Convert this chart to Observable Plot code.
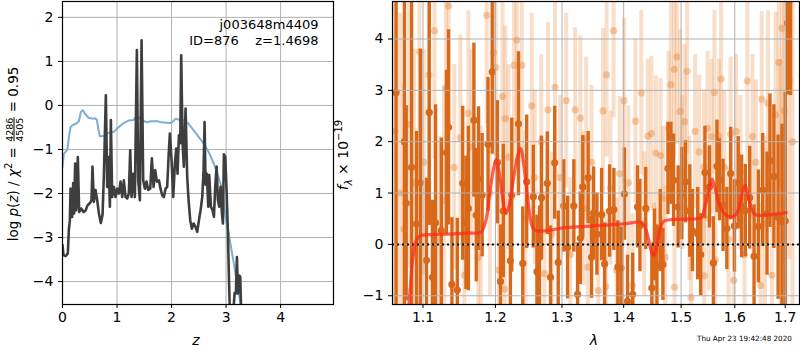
<!DOCTYPE html>
<html><head><meta charset="utf-8">
<script src="https://cdn.jsdelivr.net/npm/d3@7"></script>
<script src="https://cdn.jsdelivr.net/npm/@observablehq/plot@0.6"></script>
<style>
body{margin:0;background:#fff;font-family:"DejaVu Sans",sans-serif;}
#wrap{position:relative;width:800px;height:350px;overflow:hidden;background:#fff;}
#wrap svg{position:absolute;top:0;}
.lbl{position:absolute;font-size:14px;white-space:nowrap;color:#000;line-height:1;}
.rot{transform:translate(-50%,-50%) rotate(-90deg);}
.ctr{transform:translate(-50%,-50%);}
.frac{display:inline-flex;flex-direction:column;font-size:9.5px;line-height:9px;vertical-align:middle;text-align:center;margin:0 1px;}
.frac span:first-child{border-bottom:1px solid #000;}
sup{font-size:10px;vertical-align:6px;line-height:0;}
sub{font-size:10px;vertical-align:-4px;line-height:0;}
</style></head>
<body><div id="wrap"></div>
<script>
// ---- left panel: p(z) ----
const pzZ = [0.000,0.018,0.055,0.098,0.116,0.135,0.147,0.165,0.177,0.196,0.214,0.232,0.251,0.263,0.281,0.306,0.343,0.385,0.422,0.459,0.508,0.532,0.550,0.575,0.606,0.636,0.667,0.703,0.734,0.758,0.795,0.820,0.844,0.869,0.887,0.911,0.942,0.972,1.003,1.034,1.064,1.095,1.125,1.156,1.187,1.217,1.242,1.266,1.297,1.327,1.364,1.388,1.419,1.450,1.480,1.511,1.541,1.572,1.609,1.639,1.670,1.700,1.731,1.768,1.798,1.829,1.859,1.890,1.920,1.945,1.969,2.000,2.031,2.061,2.086,2.110,2.135,2.159,2.177,2.202,2.226,2.257,2.287,2.312,2.343,2.373,2.404,2.440,2.471,2.502,2.532,2.563,2.587,2.606,2.624,2.648,2.673,2.691,2.722,2.752,2.777,2.801,2.826,2.850,2.875,2.899,2.924,2.942,2.960,2.985,3.009,3.034,3.052,3.070,3.131,3.156,3.180,3.199,3.217,3.242,3.260,3.278];
const pzLog = [-3.17,-3.40,-3.42,-3.36,-2.83,-2.61,-1.89,-2.23,-2.53,-1.76,-2.45,-1.32,-2.38,-2.15,-1.17,-2.42,-2.34,-2.42,-2.39,-2.27,-2.21,-2.15,-1.39,-2.19,-1.92,-2.15,-2.45,-2.67,-2.49,-1.62,0.23,-1.85,-1.17,-2.30,-0.33,-2.08,-1.85,-2.08,-1.89,-2.00,-1.73,-2.08,-1.70,-2.08,-2.11,-2.00,-1.02,-2.08,-1.55,-2.08,1.26,-1.70,-2.15,1.48,-1.70,-1.89,-1.73,-1.92,-1.89,-1.20,-1.85,-1.47,-1.73,-1.70,-1.89,-2.04,-2.08,-1.89,-1.85,-1.17,-0.64,-1.24,-2.08,-1.32,-0.98,-1.55,-0.68,-0.86,1.14,-0.86,-1.39,-0.07,-1.62,-2.15,-2.61,-2.80,-2.68,-2.76,-2.87,-2.61,-2.38,-2.08,-1.48,-0.38,-1.80,-1.55,-2.30,-1.58,-2.30,-2.38,-2.53,-1.85,-1.39,-2.15,-2.30,-1.85,-2.45,-2.68,-1.11,-1.17,-1.92,-2.91,-3.89,-4.73,-4.73,-4.26,-4.27,-3.44,-4.27,-3.86,-3.89,-4.73];
const priorZ = [0.000,0.024,0.06,0.09,0.115,0.147,0.20,0.245,0.30,0.336,0.373,0.42,0.477,0.545,0.60,0.63,0.660,0.685,0.72,0.765,0.82,0.86,0.94,1.033,1.12,1.217,1.30,1.358,1.42,1.50,1.554,1.62,1.737,1.85,1.98,2.03,2.073,2.15,2.226,2.30,2.41,2.50,2.593,2.69,2.777,2.84,2.899,2.95,2.99,3.04,3.08,3.13,3.174,3.235,3.30];
const priorLog = [-1.40,-1.10,-1.05,-1.00,-0.75,-0.49,-0.44,-0.42,-0.36,-0.15,-0.11,-0.20,-0.28,-0.30,-0.29,-0.33,-0.55,-0.70,-0.70,-0.69,-0.64,-0.62,-0.60,-0.49,-0.40,-0.34,-0.33,-0.25,-0.30,-0.36,-0.38,-0.36,-0.36,-0.39,-0.40,-0.36,-0.30,-0.33,-0.34,-0.40,-0.57,-0.72,-0.87,-1.08,-1.33,-1.55,-1.78,-2.10,-2.54,-2.85,-3.14,-3.50,-3.83,-4.28,-4.75];
const zTicks = [0,1,2,3,4];
const logTicks = [-4,-3,-2,-1,0,1,2];
const objName = "j003648m4409";
const objInfo = "ID=876\u00a0\u00a0\u00a0\u00a0z=1.4698";

// ---- right panel: spectrum ----
const darkWave = [1.065,1.0757,1.078,1.085,1.0915,1.0965,1.1046,1.1083,1.1125,1.1167,1.1245,1.1315,1.1343,1.1389,1.1463,1.1537,1.1583,1.1616,1.1694,1.1727,1.1759,1.181,1.1894,1.1954,1.203,1.2074,1.2114,1.2218,1.2238,1.2337,1.2401,1.246,1.2559,1.2614,1.2653,1.2683,1.2772,1.2822,1.2886,1.2941,1.3027,1.3087,1.3186,1.3246,1.329,1.3328,1.3415,1.347,1.3503,1.3557,1.3634,1.3683,1.3765,1.3836,1.3902,1.3956,1.4012,1.4065,1.4153,1.4235,1.4276,1.4376,1.4482,1.4529,1.4571,1.4629,1.4676,1.4765,1.4818,1.4865,1.4947,1.5012,1.5079,1.5158,1.5206,1.5303,1.5358,1.5436,1.5521,1.5594,1.5661,1.5709,1.5776,1.5848,1.5921,1.5994,1.6066,1.6132,1.6204,1.6289,1.6375,1.6461,1.6546,1.6632,1.6691,1.677,1.6855,1.6934,1.7,1.7046,1.711];
const darkFlux = [2.96,2.0,0.8,1.5,0.4,1.2,-0.31,2.57,-0.64,0.42,0.27,1.79,2.28,-0.78,-0.89,1.19,0.42,0.70,2.42,0.57,1.28,0.96,1.95,3.36,1.60,-0.72,0.65,-0.32,0.96,2.35,-0.37,1.22,0.93,-0.53,-0.25,0.91,1.19,-0.64,1.59,-0.35,0.75,-0.06,0.75,-0.97,0.12,1.12,1.30,-0.25,0.61,0.20,0.58,-0.38,0.65,0.68,-0.44,-0.46,0.98,-1.11,-0.97,0.73,0.37,0.70,-0.85,-0.01,-0.42,0.27,-0.39,1.48,1.58,1.25,0.73,0.99,1.22,0.65,0.27,0.21,-0.20,1.40,1.12,-0.36,1.52,1.26,0.76,0.31,1.38,0.36,1.20,0.74,0.66,0.91,-0.23,0.35,1.06,0.60,1.63,1.32,0.53,0.44,0.46,4.31,5.5];
const darkErr = [5.0,4.0,1.9,3.5,1.8,2.6,1.6,2.2,1.5,2.3,1.8,1.6,1.9,1.3,1.4,1.5,1.3,1.6,1.5,1.3,1.4,1.2,1.3,1.6,1.2,1.1,1.3,1.2,1.5,1.4,1.1,1.3,1.0,1.1,1.0,1.2,1.0,1.0,1.1,1.0,0.9,1.0,0.9,1.0,0.9,1.0,0.9,0.8,0.9,0.8,0.9,0.8,0.9,0.8,0.9,0.8,0.9,0.9,0.8,0.8,0.9,0.8,0.8,0.7,0.8,0.8,0.7,0.9,0.8,0.9,0.8,0.9,0.8,0.9,0.8,0.9,0.8,0.9,0.8,0.9,0.9,0.8,0.9,0.8,0.9,0.9,0.9,1.0,0.9,1.0,1.0,1.1,1.1,1.2,1.3,1.4,1.6,1.9,2.5,1.4,2.6];
const lightWave = [1.0635,1.07,1.075,1.0815,1.088,1.0954,1.101,1.1079,1.1153,1.122,1.128,1.1306,1.1343,1.142,1.1505,1.156,1.1616,1.166,1.1755,1.179,1.1875,1.192,1.1972,1.2005,1.205,1.2104,1.2134,1.2144,1.219,1.2272,1.2312,1.2386,1.244,1.2535,1.258,1.268,1.2728,1.2782,1.284,1.2891,1.297,1.3066,1.313,1.3208,1.329,1.334,1.3383,1.341,1.347,1.358,1.3656,1.3705,1.3716,1.378,1.3831,1.388,1.3934,1.4006,1.408,1.415,1.42,1.43,1.435,1.4412,1.4476,1.452,1.4553,1.4635,1.468,1.4718,1.4776,1.4818,1.4876,1.4882,1.4924,1.4982,1.502,1.5061,1.5109,1.515,1.5182,1.5255,1.533,1.5418,1.5424,1.5485,1.551,1.5558,1.5612,1.563,1.5697,1.5739,1.58,1.588,1.5921,1.598,1.6026,1.611,1.619,1.6243,1.6342,1.641,1.6507,1.6526,1.659,1.6651,1.673,1.6803,1.6868,1.69,1.6934,1.698,1.708,1.715];
const lightFlux = [2.2,1.0,0.3,2.34,1.2,3.75,1.6,3.30,4.16,0.1,0.86,3.06,4.64,1.5,2.08,-0.6,2.55,1.9,-0.25,0.4,4.46,1.0,3.73,3.45,-0.5,2.88,-0.87,2.45,1.7,3.49,3.98,3.49,0.5,2.70,1.3,2.0,-0.57,2.62,0.2,3.06,1.3,2.80,-0.2,2.62,2.46,0.7,2.05,-0.44,1.6,-0.9,2.60,-0.82,3.30,1.1,4.16,-0.5,1.38,2.80,1.2,-0.8,2.40,2.95,0.4,2.11,2.16,-0.6,1.78,1.73,0.9,-0.25,2.26,3.11,3.41,-0.83,3.65,2.59,1.4,2.39,3.37,0.7,-1.03,2.20,1.8,1.51,-0.61,2.26,0.5,2.10,2.96,-0.3,2.11,3.22,1.5,0.1,2.15,-0.7,2.20,1.4,-0.2,3.18,2.10,1.6,-0.80,2.83,0.4,2.75,-0.6,2.52,3.54,1.2,4.21,2.6,3.2,2.0];
const lightErr = [4.5,3.5,2.8,2.8,2.6,2.4,2.2,2.3,2.5,2.0,2.2,2.2,2.4,2.0,2.0,1.8,2.0,1.9,1.8,1.9,2.1,2.0,2.0,1.9,1.8,1.9,1.7,1.8,1.8,1.9,2.0,1.9,1.7,1.8,1.7,1.7,1.6,1.7,1.6,1.7,1.6,1.7,1.5,1.6,1.6,1.5,1.6,1.5,1.5,1.4,1.6,1.5,1.6,1.5,1.7,1.4,1.5,1.6,1.5,1.4,1.6,1.6,1.4,1.5,1.5,1.4,1.5,1.5,1.4,1.4,1.5,1.6,1.7,1.4,1.7,1.6,1.5,1.5,1.6,1.4,1.4,1.5,1.5,1.5,1.4,1.5,1.4,1.5,1.6,1.4,1.5,1.6,1.5,1.4,1.5,1.4,1.5,1.5,1.5,1.6,1.6,1.6,1.6,1.7,1.7,1.8,1.8,2.0,2.3,2.4,2.6,3.0,3.5,4.0];
const modelWave = [1.0815,1.0834,1.0855,1.0875,1.0905,1.094,1.100,1.13,1.16,1.179,1.186,1.192,1.197,1.201,1.205,1.210,1.215,1.220,1.226,1.232,1.237,1.242,1.248,1.253,1.258,1.28,1.30,1.35,1.40,1.429,1.436,1.442,1.447,1.4515,1.456,1.461,1.468,1.48,1.53,1.537,1.545,1.552,1.557,1.562,1.570,1.580,1.592,1.602,1.610,1.616,1.620,1.626,1.633,1.640,1.66,1.68,1.702];
const modelFlux = [-1.17,-0.83,-0.40,-0.18,0.05,0.14,0.18,0.20,0.22,0.24,0.45,1.0,1.45,1.65,1.45,0.95,0.60,0.75,1.25,1.70,1.87,1.50,0.85,0.40,0.28,0.27,0.32,0.36,0.40,0.43,0.35,0.12,-0.12,-0.22,-0.08,0.22,0.44,0.48,0.50,0.52,0.80,1.12,1.27,1.12,0.80,0.60,0.53,0.58,0.80,1.08,1.15,0.95,0.68,0.58,0.57,0.59,0.62];
const lamTicks = [1.1,1.2,1.3,1.4,1.5,1.6,1.7];
const fluxTicks = [-1,0,1,2,3,4];

const pz = pzZ.map((z,i)=>({z, v:pzLog[i]}));
const prior = priorZ.map((z,i)=>({z, v:priorLog[i]}));
const dark = darkWave.map((w,i)=>({w, f:darkFlux[i], e:darkErr[i]}));
const light = lightWave.map((w,i)=>({w, f:lightFlux[i], e:lightErr[i]}));
const model = modelWave.map((w,i)=>({w, f:modelFlux[i]}));

const minus = d => d < 0 ? "\u2212" + (-d) : String(d);
const FONT = {fontFamily:"DejaVu Sans, sans-serif", color:"black", background:"transparent", overflow:"visible"};
const GRID = "#b0b0b0";

const left = Plot.plot({
  width:340, height:350, marginLeft:62, marginRight:7, marginTop:1, marginBottom:46,
  style:FONT,
  x:{domain:[0,4.97]}, y:{domain:[-4.52,2.36]},
  marks:[
    Plot.gridX(zTicks, {stroke:GRID, strokeOpacity:1, strokeWidth:1}),
    Plot.gridY(logTicks, {stroke:GRID, strokeOpacity:1, strokeWidth:1}),
    Plot.line(prior, {x:"z", y:"v", stroke:"#7aaed5", strokeWidth:2, clip:true}),
    Plot.line(pz, {x:"z", y:"v", stroke:"#3e3e3e", strokeWidth:2.6, strokeLinejoin:"round", clip:true}),
    Plot.frame({stroke:"black", strokeWidth:1.2}),
    Plot.axisX(zTicks, {tickSize:4, tickPadding:4, fontSize:14, label:null, tickFormat:minus}),
    Plot.axisY(logTicks, {tickSize:4, tickPadding:5, fontSize:14, label:null, tickFormat:minus}),
    Plot.text([objName], {text:d=>d, frameAnchor:"top-right", dx:-15, dy:18, fontSize:13, textAnchor:"end"}),
    Plot.text([objInfo], {text:d=>d, frameAnchor:"top-right", dx:-15, dy:34, fontSize:13, textAnchor:"end"})
  ]
});
left.style.left = "0px";

const right = Plot.plot({
  width:460, height:350, marginLeft:52, marginRight:1, marginTop:1, marginBottom:46,
  style:FONT,
  x:{type:"log", domain:[1.0604,1.7294]}, y:{domain:[-1.17,4.73]},
  marks:[
    Plot.ruleX(light, {x:"w", y1:d=>d.f-d.e, y2:d=>d.f+d.e, stroke:"#e8893c", strokeOpacity:0.28, strokeWidth:4, clip:true}),
    Plot.dot(light, {x:"w", y:"f", r:3.6, fill:"#e8893c", fillOpacity:0.42, clip:true}),
    Plot.ruleX(dark, {x:"w", y1:d=>d.f-d.e, y2:d=>d.f+d.e, stroke:"#d9691a", strokeWidth:3.4, clip:true}),
    Plot.dot(dark, {x:"w", y:"f", r:3.6, fill:"#d9691a", clip:true}),
    Plot.gridX(lamTicks, {stroke:GRID, strokeOpacity:1, strokeWidth:1}),
    Plot.gridY(fluxTicks, {stroke:GRID, strokeOpacity:1, strokeWidth:1}),
    Plot.ruleY([0], {stroke:"#111", strokeWidth:2, strokeDasharray:"2,3"}),
    Plot.line(model, {x:"w", y:"f", stroke:"#ff2a1a", strokeOpacity:0.75, strokeWidth:3.2, curve:"catmull-rom", clip:true}),
    Plot.frame({stroke:"black", strokeWidth:1.2}),
    Plot.axisX(lamTicks, {tickSize:4, tickPadding:4, fontSize:14, label:null, tickFormat:d=>d.toFixed(1)}),
    Plot.axisY(fluxTicks, {tickSize:4, tickPadding:5, fontSize:14, label:null, tickFormat:minus})
  ]
});
right.style.left = "340px";

const wrap = document.getElementById("wrap");
wrap.append(left, right);
wrap.insertAdjacentHTML("beforeend", `
<div class="lbl rot" style="left:14px;top:154px;font-size:13.5px">log <i>p</i>(<i>z</i>) / <i>χ</i><sup>2</sup> = <span class="frac"><span>4286</span><span>4505</span></span> = 0.95</div>
<div class="lbl rot" style="left:343px;top:155px;"><i>f</i><sub><i>λ</i></sub> × 10<sup>−19</sup></div>
<div class="lbl ctr" style="left:196px;top:340px;"><i>z</i></div>
<div class="lbl ctr" style="left:594px;top:340px;"><i>λ</i></div>
<div class="lbl" style="left:697px;top:335px;font-size:7.2px;">Thu Apr 23 19:42:48 2020</div>
`);
</script>
</body></html>
